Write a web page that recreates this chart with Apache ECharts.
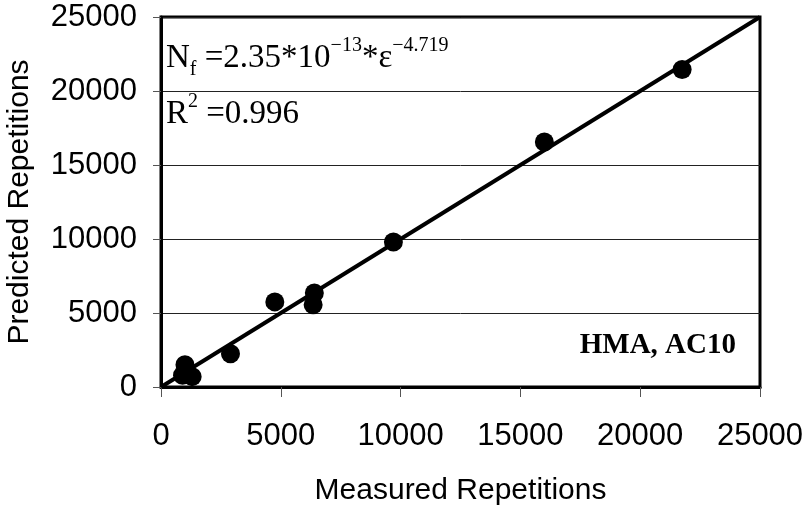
<!DOCTYPE html>
<html>
<head>
<meta charset="utf-8">
<script src="https://cdn.jsdelivr.net/npm/echarts@6/dist/echarts.min.js"></script>
<style>html,body{margin:0;padding:0;background:#fff;}#c{width:805px;height:510px;}</style>
</head>
<body>
<div id="c"></div>
<script>
const xTitle = 'Measured Repetitions';
const yTitle = 'Predicted Repetitions';
const measured = [1000, 900, 1300, 2900, 4750, 6400, 6350, 9700, 16000, 21750];
const predicted = [1500, 800, 700, 2250, 5750, 6350, 5550, 9800, 16550, 21450];
const fitLine = [[0, 0], [25000, 25000]];
const label = 'HMA, AC10';

const chart = echarts.init(document.getElementById('c'), null, {renderer: 'canvas'});
const axisLabelStyle = {color: '#000', fontFamily: 'Liberation Sans, Arial', fontSize: 31, formatter: v => String(v)};
const serif = 'Liberation Serif, Times New Roman';
chart.setOption({
  animation: false,
  grid: {left: 161, top: 17, right: 45, bottom: 123, outerBoundsMode: 'none', containLabel: false, show: true, borderColor: '#000', borderWidth: 3, backgroundColor: 'transparent'},
  xAxis: {
    type: 'value', min: 0, max: 25000, interval: 5000,
    name: xTitle, nameLocation: 'middle', nameGap: 89,
    nameTextStyle: {color: '#000', fontFamily: 'Liberation Sans, Arial', fontSize: 30},
    axisLine: {show: true, lineStyle: {color: '#000', width: 3}},
    axisTick: {show: true, inside: false, length: 10, lineStyle: {color: '#555', width: 1}},
    axisLabel: Object.assign({margin: 34}, axisLabelStyle),
    splitLine: {show: false}
  },
  yAxis: {
    type: 'value', min: 0, max: 25000, interval: 5000,
    name: yTitle, nameLocation: 'middle', nameGap: 126,
    nameTextStyle: {color: '#000', fontFamily: 'Liberation Sans, Arial', fontSize: 30},
    axisLine: {show: true, lineStyle: {color: '#000', width: 3}},
    axisTick: {show: true, inside: false, length: 8, lineStyle: {color: '#555', width: 1}},
    axisLabel: Object.assign({margin: 24}, axisLabelStyle),
    splitLine: {show: true, lineStyle: {color: '#222', width: 1}}
  },
  series: [
    {
      type: 'line', data: fitLine, symbol: 'none', z: 3,
      lineStyle: {color: '#000', width: 4}
    },
    {
      type: 'scatter', data: measured.map((m, i) => [m, predicted[i]]),
      symbol: 'circle', symbolSize: 19, z: 4,
      itemStyle: {color: '#000', opacity: 1}
    }
  ],
  graphic: [
    {
      type: 'text', left: 166, top: 36, z: 10,
      style: {
        text: '{a|N}{sub|f}{a| =2.35*10}{sup|−13}{a|*ε}{sup|−4.719}',
        rich: {
          a: {fontFamily: serif, fontSize: 33, lineHeight: 44, fill: '#000', verticalAlign: 'middle'},
          sub: {fontFamily: serif, fontSize: 20, lineHeight: 20, fill: '#000', verticalAlign: 'bottom'},
          sup: {fontFamily: serif, fontSize: 20, lineHeight: 20, fill: '#000', verticalAlign: 'top'}
        }
      }
    },
    {
      type: 'text', left: 166, top: 92, z: 10,
      style: {
        text: '{a|R}{sup|2}{a| =0.996}',
        rich: {
          a: {fontFamily: serif, fontSize: 33, lineHeight: 44, fill: '#000', verticalAlign: 'middle'},
          sup: {fontFamily: serif, fontSize: 20, lineHeight: 20, fill: '#000', verticalAlign: 'top'}
        }
      }
    },
    {
      type: 'text', right: 69, top: 331, z: 10,
      style: {text: label, fontFamily: serif, fontWeight: 'bold', fontSize: 29, fill: '#000'}
    }
  ]
});
</script>
</body>
</html>
